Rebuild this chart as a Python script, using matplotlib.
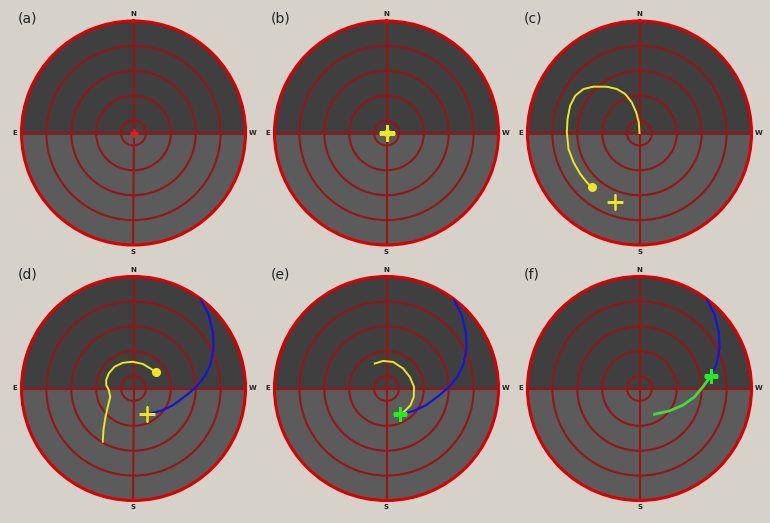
import matplotlib.pyplot as plt
import numpy as np

# Sky grid: zenith rings (deg) and compass points (azimuth from N towards E)
ring_zenith = [10, 30, 50, 70]
compass_az = [0, 90, 180, 270]
compass_labels = ['N', 'E', 'S', 'W']
panel_labels = ['(a)', '(b)', '(c)', '(d)', '(e)', '(f)']

# (c) yellow track, azimuth / zenith in degrees
track_c_az = [0, 3.7, 9.1, 14.1, 20.1, 27.3, 35.2, 44.8, 51.8, 59.9, 68.5,
              79.0, 89.4, 102.7, 113.9, 124.7, 133.1, 138.7]
track_c_zen = [0, 8.6, 16.8, 25.4, 33.4, 39.8, 45.5, 52.5, 57.2, 59.7, 59.9,
               58.9, 58.4, 58.5, 58.0, 57.9, 58.0, 58.1]
target_c_az, target_c_zen = 160.0, 58.7

# (d) yellow track
track_d_az = [150.0, 144.1, 135.2, 125.3, 109.4, 93.5, 82.7, 72.7, 58.4,
              41.1, 22.5, 1.5, -20.8, -42.2, -53.6]
track_d_zen = [49.4, 41.2, 31.9, 25.3, 19.8, 19.9, 22.1, 23.0, 23.3,
               23.2, 22.4, 21.5, 21.1, 21.2, 22.0]
target_az, target_zen = 208.0, 23.5

# blue path from the horizon down to the target (d, e, f)
path_az = [323.2, 314.6, 305.2, 296.6, 287.3, 279.6, 271.8, 261.8, 246.4, 230.2, 208.0]
path_zen = [90.0, 84.7, 78.1, 71.9, 64.8, 57.9, 50.7, 42.2, 34.2, 28.2, 23.5]

# (e) yellow track
track_e_az = [25.1, 7.0, -13.9, -39.7, -63.5, -86.7, -107.1, -124.8, -140.8, -152.0]
track_e_zen = [22.2, 22.3, 22.0, 20.9, 20.9, 22.2, 22.9, 23.5, 23.3, 23.5]

# (f) green track and current position
green_az = [279.6, 271.4, 261.3, 248.9, 233.3, 210.3]
green_zen = [57.9, 50.9, 44.7, 37.3, 30.1, 23.9]
star_f_az, star_f_zen = 279.6, 57.9

YELLOW = '#eee622'
BLUE = '#1515d8'
GREEN = '#22ee22'


def rad(v):
    return np.radians(v)


def sky_axes(ax):
    ax.set_theta_zero_location('N')
    ax.set_theta_direction(1)
    ax.set_ylim(0, 90)
    ax.set_facecolor('#5b5b5b')
    half = rad(np.linspace(-90, 90, 181))
    ax.fill_between(half, 0, 90, color='#3f3f3f', zorder=0)
    ax.set_yticks(ring_zenith)
    ax.tick_params(axis='y', labelleft=False)
    ax.set_thetagrids(compass_az, [''] * 4)
    ax.grid(True, color='#961515', lw=1.5)
    ax.spines['polar'].set_color('#d80000')
    ax.spines['polar'].set_linewidth(2.2)
    # compass letters just outside the horizon circle
    for az, lab in zip(compass_az, compass_labels):
        ax.text(rad(az), 95.5, lab, fontsize=5, fontweight='bold', color='#222222',
                ha='center', va='center', clip_on=False)


def star(ax, az, zen, color, size=11):
    ax.plot(rad(az), zen, '+', color=color, ms=size, mew=2.2, zorder=5)
    ax.plot(rad(az), zen, 'o', color=color, ms=size * 0.45, mew=0, zorder=5)


fig = plt.figure(figsize=(7.7, 5.23), dpi=100, facecolor='#d6d2ca')
W, H = 770, 523
R = 112
centers_x = [133.5, 386.5, 639.5]
centers_y = [133, 388.5]

axes = []
for i in range(6):
    cx = centers_x[i % 3]
    cy = centers_y[i // 3]
    ax = fig.add_axes([(cx - R) / W, (H - cy - R) / H, 2 * R / W, 2 * R / H], projection='polar')
    sky_axes(ax)
    fig.text((cx - 116) / W, 1 - (cy - 114) / H, panel_labels[i], fontsize=10,
             color='#222222', va='center', ha='left')
    axes.append(ax)

# (a) start point
ax = axes[0]
ax.plot(0, 0, '+', color='#ff1010', ms=6, mew=2, zorder=5)
ax.plot(0, 0, 'o', color='#ff1010', ms=3.5, mew=0, zorder=5)

# (b)
star(axes[1], 0, 0, YELLOW, size=12)

# (c)
ax = axes[2]
ax.plot(rad(track_c_az), track_c_zen, color=YELLOW, lw=1.4, zorder=4)
ax.plot(rad(track_c_az[-1]), track_c_zen[-1], 'o', color=YELLOW, ms=5.5, zorder=5)
ax.plot(rad(target_c_az), target_c_zen, '+', color=YELLOW, ms=11, mew=1.8, zorder=5)

# (d)
ax = axes[3]
ax.plot(rad(path_az), path_zen, color=BLUE, lw=1.6, zorder=4)
ax.plot(rad(track_d_az), track_d_zen, color=YELLOW, lw=1.4, zorder=4)
ax.plot(rad(track_d_az[-1]), track_d_zen[-1], 'o', color=YELLOW, ms=5.5, zorder=5)
ax.plot(rad(target_az), target_zen, '+', color=YELLOW, ms=11, mew=1.8, zorder=5)

# (e)
ax = axes[4]
ax.plot(rad(path_az), path_zen, color=BLUE, lw=1.6, zorder=4)
ax.plot(rad(track_e_az), track_e_zen, color=YELLOW, lw=1.4, zorder=4)
star(ax, target_az, target_zen, GREEN, size=10)

# (f)
ax = axes[5]
ax.plot(rad(path_az[:6]), path_zen[:6], color=BLUE, lw=1.6, zorder=4)
ax.plot(rad(green_az), green_zen, color='#48d83c', lw=2, zorder=4)
star(ax, star_f_az, star_f_zen, GREEN, size=10)

plt.savefig('out.png', dpi=100, facecolor=fig.get_facecolor())
